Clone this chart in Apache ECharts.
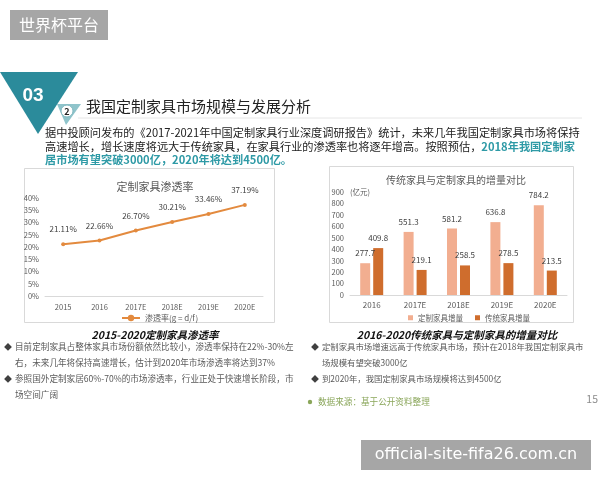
<!DOCTYPE html>
<html>
<head>
<meta charset="utf-8">
<script src="https://cdn.jsdelivr.net/npm/echarts@6/dist/echarts.min.js"></script>
<style>
  html, body { margin: 0; padding: 0; background: #fff; }
  #main { width: 600px; height: 480px; }
</style>
</head>
<body>
<div id="main"></div>
<script>
// 渗透率
var rateYears = ['2015', '2016', '2017E', '2018E', '2019E', '2020E'];
var rateValues = [21.11, 22.66, 26.70, 30.21, 33.46, 37.19];
// 增量对比（亿元）
var incYears = ['2016', '2017E', '2018E', '2019E', '2020E'];
var customInc = [277.7, 551.3, 581.2, 636.8, 784.2];
var tradInc = [409.8, 219.1, 258.5, 278.5, 213.5];

var FONT = '"Noto Sans CJK SC", "Liberation Sans", sans-serif';
var TEAL = '#2b8b9b';
var LINE_C = '#e38a3e';
var LIGHT_C = '#f2ae90';
var DARK_C = '#cf6d2d';

function txt(x, y, text, size, color, extra) {
  var s = {
    text: text, x: x, y: y, fontSize: size, fontFamily: FONT, fill: color,
    align: 'left', verticalAlign: 'middle', textAlign: 'left', textVerticalAlign: 'middle'
  };
  for (var k in extra) s[k] = extra[k];
  return { type: 'text', silent: true, style: s };
}

var chart = echarts.init(document.getElementById('main'));

var option = {
  backgroundColor: '#fff',
  animation: false,
  textStyle: { fontFamily: FONT },
  title: [
    { text: '定制家具渗透率', left: 150, top: 176, textAlign: 'center',
      textStyle: { fontSize: 11, color: '#595959', fontWeight: 'normal' } },
    { text: '传统家具与定制家具的增量对比', left: 451, top: 170, textAlign: 'center',
      textStyle: { fontSize: 10, color: '#595959', fontWeight: 'normal' } },
    { text: '2015-2020定制家具渗透率', left: 150, top: 325, textAlign: 'center',
      textStyle: { fontSize: 10.5, color: '#111', fontWeight: 'bold', fontStyle: 'italic' } },
    { text: '2016-2020传统家具与定制家具的增量对比', left: 452, top: 325, textAlign: 'center',
      textStyle: { fontSize: 10.5, color: '#111', fontWeight: 'bold', fontStyle: 'italic' } }
  ],
  legend: [
    { data: ['渗透率(g = d/f)'], left: 116, top: 309, itemWidth: 18, itemHeight: 8, itemGap: 4,
      textStyle: { fontSize: 8, color: '#595959' } },
    { data: ['定制家具增量', '传统家具增量'], left: 403, top: 309, itemWidth: 5, itemHeight: 5,
      itemGap: 12, icon: 'rect', textStyle: { fontSize: 7.5, color: '#595959' } }
  ],
  grid: [
    { left: 45, right: 337, top: 198, bottom: 184 },
    { left: 350, right: 33, top: 192, bottom: 185 }
  ],
  xAxis: [
    { type: 'category', gridIndex: 0, data: rateYears,
      axisLine: { lineStyle: { color: '#d9d9d9' } }, axisTick: { show: false },
      axisLabel: { fontSize: 7.5, color: '#595959', margin: 7 } },
    { type: 'category', gridIndex: 1, data: incYears,
      axisLine: { lineStyle: { color: '#d9d9d9' } }, axisTick: { show: false },
      axisLabel: { fontSize: 8, color: '#595959', margin: 6 } }
  ],
  yAxis: [
    { type: 'value', gridIndex: 0, min: 0, max: 40, interval: 5,
      axisLine: { show: false }, axisTick: { show: false }, splitLine: { show: false },
      axisLabel: { fontSize: 7.5, color: '#595959', formatter: '{value}%', margin: 6 } },
    { type: 'value', gridIndex: 1, min: 0, max: 900, interval: 100,
      axisLine: { show: false }, axisTick: { show: false }, splitLine: { show: false },
      axisLabel: { fontSize: 7.5, color: '#595959', margin: 6 } }
  ],
  series: [
    { name: '渗透率(g = d/f)', type: 'line', xAxisIndex: 0, yAxisIndex: 0, data: rateValues,
      color: LINE_C, lineStyle: { width: 2, color: LINE_C }, symbol: 'circle', symbolSize: 4,
      itemStyle: { color: LINE_C },
      label: { show: true, position: 'top', distance: 9, fontSize: 8, color: '#404040',
        formatter: function (p) { return p.value.toFixed(2) + '%'; } } },
    { name: '定制家具增量', type: 'bar', xAxisIndex: 1, yAxisIndex: 1, data: customInc,
      barWidth: 10, barGap: '30%', itemStyle: { color: LIGHT_C },
      label: { show: true, position: 'top', distance: 6, fontSize: 8, color: '#404040',
        formatter: function (p) { return p.value.toFixed(1); } } },
    { name: '传统家具增量', type: 'bar', xAxisIndex: 1, yAxisIndex: 1, data: tradInc,
      barWidth: 10, itemStyle: { color: DARK_C },
      label: { show: true, position: 'top', distance: 6, fontSize: 8, color: '#404040',
        formatter: function (p) { return p.value.toFixed(1); } } }
  ],
  graphic: [
    // 水印
    { type: 'rect', silent: true, shape: { x: 10, y: 10, width: 98, height: 30 }, style: { fill: '#a6a6a6' } },
    txt(59, 25, '世界杯平台', 16, '#fff', { align: 'center', textAlign: 'center' }),
    { type: 'rect', silent: true, shape: { x: 361, y: 440, width: 230, height: 30 }, style: { fill: '#a6a6a6' } },
    txt(476, 455, 'official-site-fifa26.com.cn', 16, '#fff',
      { align: 'center', textAlign: 'center', fontFamily: '"DejaVu Sans", sans-serif' }),
    // 标题装饰
    { type: 'polygon', silent: true, shape: { points: [[0, 72], [78, 72], [38, 134]] }, style: { fill: TEAL } },
    txt(33, 96, '03', 19, '#fff', { align: 'center', textAlign: 'center', fontWeight: 'bold',
      fontFamily: '"Liberation Sans", sans-serif' }),
    { type: 'polygon', silent: true, shape: { points: [[57, 104], [81, 104], [66, 125]] }, style: { fill: '#8fc4cb' } },
    { type: 'circle', silent: true, shape: { cx: 67, cy: 111, r: 6 }, style: { fill: '#fff', stroke: '#7fb8c0', lineWidth: 1 } },
    txt(67, 111.5, '2', 9, '#222', { align: 'center', textAlign: 'center', fontWeight: 'bold' }),
    txt(86, 106, '我国定制家具市场规模与发展分析', 15, '#222'),
    { type: 'line', silent: true, shape: { x1: 78, y1: 118, x2: 582, y2: 118 }, style: { stroke: '#e6e6e6', lineWidth: 1 } },
    // 正文
    txt(45, 133, '据中投顾问发布的《2017-2021年中国定制家具行业深度调研报告》统计，未来几年我国定制家具市场将保持', 11.2, '#222'),
    { type: 'text', silent: true, style: {
      x: 45, y: 147, verticalAlign: 'middle', textVerticalAlign: 'middle', fontSize: 11.2, fontFamily: FONT,
      text: '{n|高速增长，增长速度将远大于传统家具，在家具行业的渗透率也将逐年增高。按照预估，}{h|2018年我国定制家}',
      rich: {
        n: { fill: '#222', fontSize: 11.2, fontFamily: FONT },
        h: { fill: '#2e9aa6', fontSize: 11.2, fontFamily: FONT, fontWeight: 'bold' }
      } } },
    txt(45, 160, '居市场有望突破3000亿，2020年将达到4500亿。', 11.2, '#2e9aa6', { fontWeight: 'bold' }),
    // 图表边框
    { type: 'rect', silent: true, shape: { x: 24.5, y: 168.5, width: 250, height: 154 },
      style: { fill: 'none', stroke: '#d9d9d9', lineWidth: 1 } },
    { type: 'rect', silent: true, shape: { x: 329.5, y: 166.5, width: 244, height: 156 },
      style: { fill: 'none', stroke: '#d9d9d9', lineWidth: 1 } },
    txt(350, 192, '(亿元)', 7.5, '#595959'),
    // 要点
    txt(4, 347, '◆', 8, '#404040'),
    txt(15, 347, '目前定制家具占整体家具市场份额依然比较小，渗透率保持在22%-30%左', 8.6, '#595959'),
    txt(15, 363, '右，未来几年将保持高速增长，估计到2020年市场渗透率将达到37%', 8.6, '#595959'),
    txt(4, 379, '◆', 8, '#404040'),
    txt(15, 379, '参照国外定制家居60%-70%的市场渗透率，行业正处于快速增长阶段，市', 8.6, '#595959'),
    txt(15, 395, '场空间广阔', 8.6, '#595959'),
    txt(311, 347, '◆', 8, '#404040'),
    txt(322, 347, '定制家具市场增速远高于传统家具市场，预计在2018年我国定制家具市', 8.4, '#595959'),
    txt(322, 363, '场规模有望突破3000亿', 8.4, '#595959'),
    txt(311, 379, '◆', 8, '#404040'),
    txt(322, 379, '到2020年，我国定制家具市场规模将达到4500亿', 8.4, '#595959'),
    { type: 'circle', silent: true, shape: { cx: 310, cy: 402, r: 2.2 }, style: { fill: '#8aa65a' } },
    txt(318, 402, '数据来源：基于公开资料整理', 8.6, '#8aa65a'),
    txt(598, 399, '15', 10.5, '#8c8c8c', { align: 'right', textAlign: 'right' })
  ]
};

chart.setOption(option);
</script>
</body>
</html>
